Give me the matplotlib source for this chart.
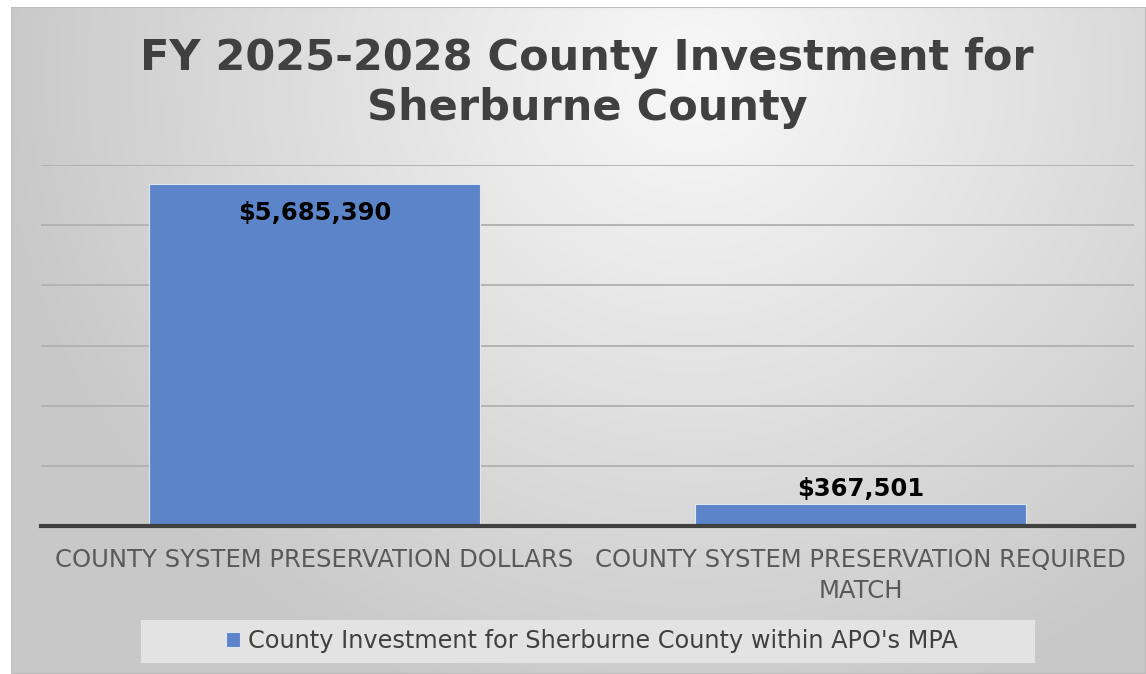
import numpy as np
import matplotlib
matplotlib.use("Agg")
import matplotlib.pyplot as plt
from matplotlib.patches import Rectangle

categories = ["COUNTY SYSTEM PRESERVATION DOLLARS",
              "COUNTY SYSTEM PRESERVATION REQUIRED\nMATCH"]
values = [5685390, 367501]
value_labels = ["$5,685,390", "$367,501"]
series_name = "County Investment for Sherburne County within APO's MPA"
title = "FY 2025-2028 County Investment for\nSherburne County"

plt.rcParams['font.family'] = ['DejaVu Sans']

W, H = 1146, 674
fig = plt.figure(figsize=(W / 100, H / 100), dpi=100)
fig.patch.set_facecolor('white')

# background radial gradient panel
bx0, by0 = 11, 7
bg_ax = fig.add_axes([bx0 / W, 0, (W - bx0) / W, (H - by0) / H])
bg_ax.set_axis_off()
ny, nx = 300, 500
yy, xx = np.mgrid[0:ny, 0:nx]
cx, cy = 0.6 * nx, 0.1 * ny
d = np.sqrt(((xx - cx) / (0.62 * nx)) ** 2 + ((yy - cy) / (1.0 * ny)) ** 2)
d = np.clip(d, 0, 1)
v = 0.975 - 0.19 * d
img = np.dstack([v, v, v])
bg_ax.imshow(img, aspect='auto', extent=[0, 1, 0, 1], origin='upper')
bg_ax.add_patch(Rectangle((0, 0), 1, 1, transform=bg_ax.transAxes, fill=False,
                          edgecolor='#bdbdbd', lw=1.5))

# main axes
left, right = 41, 1134
y0, y1 = 526, 165
ax = fig.add_axes([left / W, (H - y0) / H, (right - left) / W, (y0 - y1) / H])
ax.patch.set_alpha(0)
x = np.arange(len(categories))
bars = ax.bar(x, values, width=0.605, color='#5B84C9', edgecolor='#dfe6f3',
              linewidth=0.8, zorder=3, label=series_name)
ax.set_xlim(-0.5, 1.5)
ax.set_ylim(0, 6000000)
ax.set_yticks(np.arange(1000000, 6000001, 1000000))
ax.yaxis.grid(True, color='#b3b3b3', lw=1.4, zorder=0)
ax.tick_params(axis='y', length=0, labelleft=False)
ax.tick_params(axis='x', length=0, pad=16, labelsize=17.5, labelcolor='#595959')
ax.set_xticks(x)
ax.set_xticklabels(categories, linespacing=1.38)
for s in ['top', 'right', 'left']:
    ax.spines[s].set_visible(False)
ax.spines['bottom'].set_color('#404040')
ax.spines['bottom'].set_linewidth(3)
ax.spines['bottom'].set_zorder(4)

# data labels
ax.annotate(value_labels[0], (x[0], values[0]), xytext=(0, -21), textcoords='offset points',
            ha='center', va='center', fontsize=17.5, fontweight='bold', color='black', zorder=5)
ax.annotate(value_labels[1], (x[1], values[1]), xytext=(0, 11), textcoords='offset points',
            ha='center', va='center', fontsize=17.5, fontweight='bold', color='black', zorder=5)

# title
fig.text(587 / W, 1 - 83 / H, title, ha='center', va='center', fontsize=31,
         fontweight='bold', color='#404040', linespacing=1.22)

# legend box + legend
fig.patches.append(Rectangle((141 / W, 1 - 663 / H), (1035 - 141) / W, 43 / H,
                             transform=fig.transFigure, facecolor='#e3e3e3',
                             edgecolor='none', zorder=1))
leg = fig.legend(handles=[bars], labels=[series_name], loc='center',
                 bbox_to_anchor=(592 / W, 1 - 641 / H), frameon=False,
                 fontsize=17.3, handlelength=0.55, handleheight=0.55,
                 handletextpad=0.35, borderpad=0)
for t in leg.get_texts():
    t.set_color('#404040')

fig.savefig('out.png', dpi=100)
